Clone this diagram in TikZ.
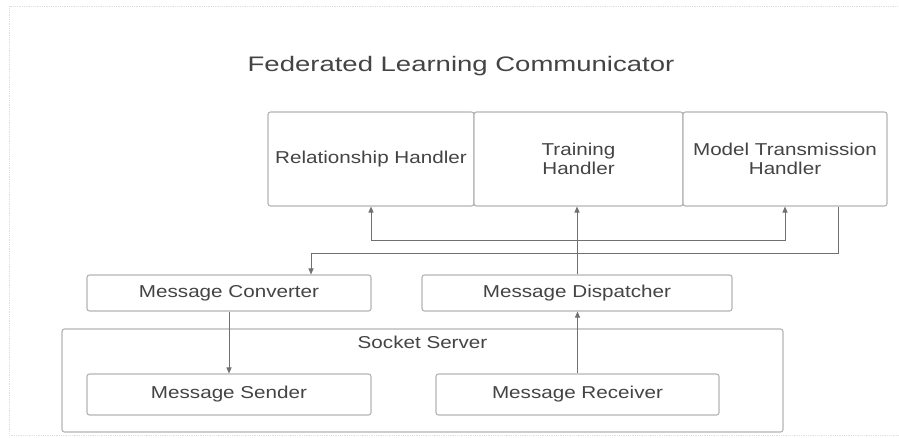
\documentclass[tikz,border=0pt]{standalone}
\usepackage{fontspec}
\setmainfont{Liberation Sans}
\newfontfamily\boxfont[FakeStretch=1.2]{Liberation Sans}
\newfontfamily\titlefont[FakeStretch=1.31]{Liberation Sans}
\usetikzlibrary{arrows.meta}
\definecolor{boxline}{HTML}{B4B4B4}
\definecolor{wire}{HTML}{707070}
\definecolor{ink}{HTML}{444444}
\tikzset{
  comp/.style={draw=boxline, line width=1.1pt, rounded corners=2.5pt, fill=white,
    text=ink, align=center, inner sep=0pt,
    font=\boxfont\fontsize{17.2}{18.5}\selectfont},
  arr/.style={draw=wire, line width=0.9pt,
    -{Triangle[length=6pt,width=5pt]}},
  wireline/.style={draw=wire, line width=0.9pt}
}
\begin{document}
\begin{tikzpicture}[x=1pt, y=-1pt]
  % canvas and faint dotted page frame
  \fill[white] (0,0) rectangle (899,437);
  \useasboundingbox (0,0) rectangle (899,437);
  \draw[gray!25, densely dotted, line width=0.8pt] (905,6) -- (9,6) -- (9,435) -- (905,435);

  % title
  \node[text=ink, font=\titlefont\fontsize{21}{24}\selectfont] (title) at (461,66) {Federated Learning Communicator};

  % handler row
  \node[comp, minimum width=206pt, minimum height=94pt] (rh) at (371,159) {Relationship Handler};
  \node[comp, minimum width=209pt, minimum height=94pt] (th) at (578.5,159) {Training\\Handler};
  \node[comp, minimum width=204pt, minimum height=94pt] (mth) at (785,159) {Model Transmission\\Handler};

  % converter and dispatcher
  \node[comp, minimum width=284pt, minimum height=36pt] (mc) at (229,293) {Message Converter};
  \node[comp, minimum width=310pt, minimum height=36pt] (md) at (577,293) {Message Dispatcher};

  % socket server group
  \node[comp, minimum width=721pt, minimum height=103pt] (ss) at (422.5,380.5) {};
  \node[text=ink, font=\boxfont\fontsize{17.2}{18.5}\selectfont, anchor=north] (sslabel) at ([yshift=-4pt]ss.north) {Socket Server};
  \node[comp, minimum width=284pt, minimum height=41pt] (ms) at (229,394.5) {Message Sender};
  \node[comp, minimum width=283pt, minimum height=41pt] (mr) at (577.5,394.5) {Message Receiver};

  % dispatcher fans out to the handlers
  \coordinate (fan) at (0,240);
  \draw[arr] (md.north) -- (md.north |- th.south);
  \draw[arr] (md.north |- fan) -| (rh.south);
  \draw[arr] (md.north |- fan) -| (mth.south);

  % outgoing models go back through the converter
  \coordinate (back) at (0,253);
  \draw[arr] ([xshift=53pt]mth.south) |- ([xshift=82pt]mc.north |- back) -- ([xshift=82pt]mc.north);

  % socket traffic
  \draw[arr] (mc.south) -- (ms.north);
  \draw[arr] (mr.north) -- (mr.north |- md.south);
\end{tikzpicture}
\end{document}
